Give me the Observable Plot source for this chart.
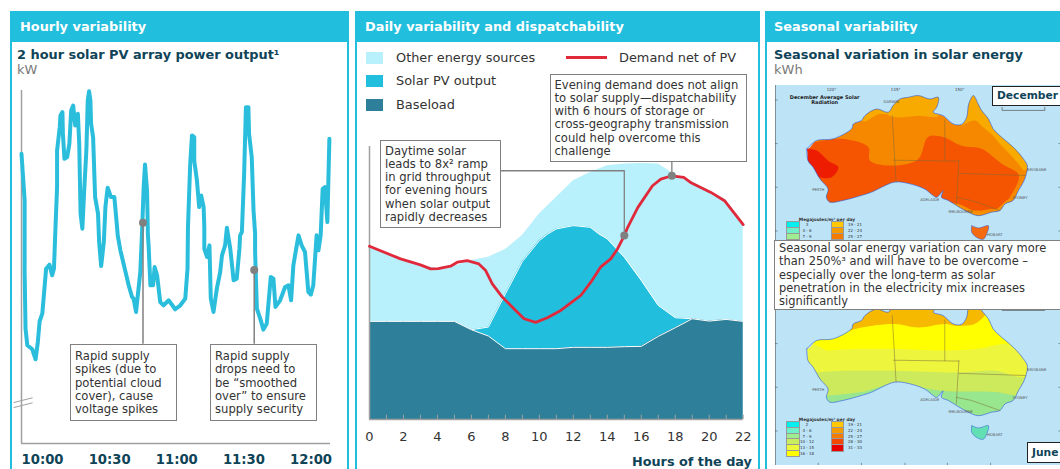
<!DOCTYPE html>
<html><head><meta charset="utf-8">
<script src="https://cdn.jsdelivr.net/npm/d3@7"></script>
<script src="https://cdn.jsdelivr.net/npm/@observablehq/plot@0.6"></script>
<style>
html,body{margin:0;padding:0;background:#fff}
#root{position:relative;width:1060px;height:469px;overflow:hidden;background:#fff;font-family:"DejaVu Sans",sans-serif}
.panel{position:absolute;top:11px;height:480px;border:2px solid #22bedd;box-sizing:border-box}
.head{position:absolute;top:11px;height:31px;background:#22bedd;color:#fff;font-weight:700;font-size:12.9px;line-height:32px;white-space:nowrap}
.t{position:absolute;white-space:nowrap}
.sub{color:#0f4458;font-weight:700;font-size:12.9px;line-height:16px}
.unit{color:#7a7a7a;font-size:13px;line-height:16px}
.leg{color:#333;font-size:12.9px;line-height:16px}
.sw{position:absolute}
.box{position:absolute;background:#fff;border:1.5px solid #808080;box-sizing:border-box;color:#333;font-size:11.6px;line-height:13.3px;white-space:nowrap;padding:4px 4px 0}
.mono{position:absolute;background:#fff;border:1.5px solid #222;box-sizing:border-box;color:#0f4458;font-weight:700;font-size:10.7px;white-space:nowrap;padding-left:4px}
.mlab{position:absolute;font-size:4px;line-height:5.6px;color:#333;white-space:nowrap;transform:translateX(-50%)}
svg{position:absolute}
</style></head><body><div id="root"></div>
<script>
// ---- Hourly panel: [minutes after 10:00, kW (relative, axis is unlabelled)]
const hourlyOutput = [[-9.4,87],[-8.6,79],[-8,73],[-8,51.5],[-7.6,34.5],[-6.8,29.5],[-4.6,28.3],[-3.1,25.3],[-2.1,30.5],[-1.3,36.7],[-0.1,39],[0.6,44.5],[1.6,52.5],[3.1,53.7],[4.3,50.5],[5.1,52.5],[5.8,65],[6.5,77],[6.5,88],[7.7,95],[8,98.5],[8.9,99.5],[9.1,93],[9.8,85.5],[11,86],[12,90],[12.8,100],[13.7,101.5],[14.6,95.5],[15.8,99],[16.4,90],[17,69],[17.8,64.5],[18.7,77],[19.6,88],[20.2,103],[20.8,105.8],[21.4,103],[21.7,96],[22.6,92],[23.5,74],[24.8,69],[25.3,60.5],[26.2,53.3],[27.4,60.5],[28.1,71],[29.1,76.8],[30.6,74],[32.1,74],[33.3,65],[33.6,62.5],[34.8,58],[38.5,47.5],[40,44],[40.7,43.5],[41.8,39.5],[42.5,44],[43.7,51.5],[44.5,64],[45.2,77],[45.8,83.8],[46.7,76],[47.1,62.5],[47.4,59.5],[48.2,47.5],[49.4,47.5],[50.1,53],[51.2,50.5],[52.6,42.5],[54.1,41.5],[56.4,43],[59.3,40.3],[61.6,41.5],[63.8,43.5],[64.8,52.5],[65,65],[66,84],[66.8,92.5],[67.8,92],[67.8,85],[69,79],[70,71],[70.9,74.5],[72,71],[72.3,65],[72.3,58.5],[73.5,56],[74.6,59.5],[75.2,43.5],[76.4,39.5],[77.9,46.5],[79.4,51.5],[80.2,56.5],[81.6,59.5],[82.4,64.8],[83.9,58.5],[85.4,49],[86.8,49.5],[88,58.5],[88.3,62.5],[89.1,63.5],[90.1,81],[90.9,101],[92,101],[92.3,93],[93.5,86],[94.3,70],[95,63],[95,57.5],[95.8,40.5],[97.3,37.5],[98.7,34.2],[100.2,36],[102,50],[103.2,49.5],[104.1,41],[106.2,43],[108.4,47],[109.9,47.5],[111.1,43],[112.1,53.5],[114.4,62.5],[115.8,59.5],[117.3,57.5],[118.8,45.5],[119.9,44.7],[121,47.5],[122.5,62.5],[123.3,58],[124.3,62.5],[125.2,76.5],[126.2,77],[127.3,66.5],[128.2,91.5]];
const hourlyTicks = [0,30,60,90,120];
const hourlyTickLabels = ["10:00","10:30","11:00","11:30","12:00"];
const hourlyCallouts = [{m:44.9,kw:66.3,to:29.8},{m:94.6,kw:52.1,to:29.8}];
const hourlyBreak = [{m:-12.8,v:12.3,z:"a"},{m:-4.6,v:13.7,z:"a"},{m:-12.8,v:10.8,z:"b"},{m:-4.6,v:12.2,z:"b"}];

// ---- Daily panel
const hours = d3.range(0,23);
const hourLabels = [0,2,4,6,8,10,12,14,16,18,20,22];
const baseloadTop = [29.5,29.5,29.5,29.5,29.5,29.5,27,25.1,21.3,21.3,21.3,21.3,21.7,21.7,21.7,21.9,22,25,27.6,30.3,29.6,30.1,29.5];
const solarHours = [6,7,8,9,10,10.5,11,12,13,13.5,14,15,16,17,18,19];
const solarTop = [27,27.8,37.8,47.5,53.8,55.8,57.3,58.3,57.8,55.8,54.3,48.8,41.8,34.3,30.6,30.3];
const otherTop = [52.1,49.8,47.6,46.5,45.4,46.1,47.8,48.8,51.1,55.3,61.8,66.8,71.8,74.3,76.3,76.8,77,76.8,73.6,71.5,68.8,66,58.6];
const demandNet = [[0,52.1],[1.83,48.3],[3,46.5],[3.6,45.3],[4.05,45.4],[4.77,46.1],[5.17,47.3],[5.76,47.8],[6.44,46.8],[6.84,44.8],[7.23,40.8],[7.82,36.8],[8.5,33.3],[9.1,30.3],[9.78,29.2],[10.47,30.6],[11.26,32.8],[12.44,37.3],[13.03,41.3],[13.6,45.8],[14.2,48.3],[14.6,51.3],[15,55.3],[15.2,57.8],[15.8,63.8],[16.66,70.3],[17.15,72.3],[17.8,73.3],[18.5,72.8],[18.9,71.3],[20.1,68.3],[20.9,65.8],[22,58.6]];
const dailyConnector = [[7.76,74.8],[15,74.8],[15,55.3]];
const dailyLeader = [[17.8,73.3],[17.8,77.3]];
const dailyDots = [[15,55.3],[17.8,73.3]];

// ---- Map outlines, in the map's own grid units
const coast = [[114.2,-21.2],[116.5,-19.3],[120.4,-18.9],[124.7,-16.6],[125.1,-15.5],[127,-14.7],[127.8,-13.6],[130.5,-12.1],[133.3,-12.8],[134.4,-11.3],[136,-9.8],[138,-9.4],[140.3,-9],[143,-9.8],[145,-9.4],[144.6,-11.7],[143.8,-12.8],[146.1,-13.6],[148.5,-15.5],[150.4,-15.6],[151.6,-14],[152.1,-10.9],[153.2,-9],[154.3,-10.9],[155.1,-12.4],[156.7,-14.3],[157.8,-16.6],[159.4,-18.2],[161.7,-20.1],[163.3,-21.6],[164.9,-23.5],[165.8,-25],[165.6,-26.9],[164.9,-28.8],[163.7,-30.8],[162.5,-33],[160.6,-33.8],[159.4,-35.3],[157.4,-35.7],[154.3,-36.5],[151.6,-35.5],[149.3,-34.2],[147.3,-33],[145.7,-32.3],[146.1,-30.8],[144.6,-32.3],[143.8,-31.9],[141.8,-30.4],[137.9,-29.1],[134.8,-28.8],[131.7,-30],[129.4,-31.1],[125.5,-32.3],[122.7,-33],[119.6,-33.4],[118.8,-32.3],[119.2,-30.4],[117.3,-28.1],[115.7,-25.4],[114.5,-23.9],[114.2,-21.2]];
const tasmania = [[152.8,-38.8],[154.4,-39.3],[156.7,-38.8],[156.3,-40.7],[155.5,-41.9],[154,-41.5],[152.8,-40.3],[152.8,-38.8]];
const stateBorders = [
 [[134.2,-13.6],[135.1,-28.8]],[[134.5,-23.8],[149.8,-24]],[[146.5,-14.6],[146.5,-23.9]],
 [[149.8,-23.9],[149.2,-33.8]],[[149.8,-26.8],[165.3,-27.3]],[[149.2,-32.3],[152.7,-33],[159.4,-35.3]]];
const scaleBar = [[159.9,-11.7],[159.9,-12.4],[169.9,-12.4],[169.9,-11.7]];
const frame = {x:[106.9,173.8], y:[-47.9,-6.7]};
const latTicks = [-10,-20,-30,-40];
const lonTicksBottom = [116.9,127,137.2,147.1,157.2];
const gridLabels = [{x:120,y:-7.7,t:"120°"},{x:135,y:-7.7,t:"135°"},{x:150,y:-7.7,t:"150°"}];
const citiesNorth = [{x:134,y:-10.5,t:"DARWIN"}];
const cities = [{x:116.9,y:-30.5,t:"PERTH"},{x:143,y:-32.8,t:"ADELAIDE"},{x:150.2,y:-35.7,t:"MELBOURNE"},{x:164.1,y:-32.3,t:"SYDNEY"},{x:168,y:-26,t:"BRISBANE"},{x:158.2,y:-40.8,t:"HOBART"}];
// December radiation bands
const decAmberNorth = [[133.3,-10.2],[145,-8.6],[145,-13.6],[140.3,-13.6],[135.6,-14],[133.3,-13.6]];
const decAmberCape = [[150.4,-15.9],[153.5,-14.7],[155.5,-16.3],[157.4,-17.8],[159.4,-20.1],[161.7,-22.4],[163.7,-24.6],[165.2,-26.2],[166,-23.9],[162.9,-19.3],[158.2,-15.5],[155.1,-10.2],[152.8,-7.9],[151.2,-13.2]];
const decAmberKimberley = [[127,-14.7],[130.5,-11.7],[133.7,-13.2],[131,-13.3],[128,-15]];
const decDark = [[116.1,-19.7],[122.3,-18.9],[128.6,-20.8],[129,-23.9],[134.8,-25],[140.3,-23.5],[142.6,-18.5],[146.1,-18.5],[150.4,-20.5],[155.1,-21.2],[159.8,-24.6],[163.7,-26.9],[163.7,-28.5],[161.7,-32.3],[159.8,-34.6],[156.7,-35],[153.5,-35.3],[149.6,-33.8],[142.6,-33],[137.2,-30],[129.4,-31.5],[119.2,-34.6],[111.4,-25.4],[113,-20.8]];
const decAmberSouth = [[149.6,-33.8],[153.5,-35.5],[158.2,-35.2],[161.7,-32.7],[162.9,-34.6],[154.3,-37.3],[147.3,-34.2]];
const decRed = [[113.8,-21.2],[116.5,-21.6],[119.2,-23.9],[121.6,-25.4],[120,-27.7],[117.3,-27.7],[115.3,-26.2],[113.4,-23.1]];
// June radiation bands
const junLime = [[119.2,-31.9],[127,-31.1],[134.8,-29.2],[145.7,-30.8],[158.2,-31.1],[164.5,-31.9],[169.9,-30],[169.9,-10.2],[111.4,-10.2],[111.4,-31.9]];
const junPale = [[116.1,-26.6],[123.1,-26.2],[134.8,-26.2],[149.6,-26.6],[158.2,-26.2],[166,-27.3],[169.9,-10.2],[111.4,-10.2],[111.4,-26.6]];
const junYellow = [[118.8,-21.6],[127,-21.2],[134.8,-21.2],[146.1,-21.6],[154.3,-21.2],[159.8,-20.1],[163.7,-20.1],[160.6,-10.2],[119.6,-10.2],[111.4,-17.8]];
const junAmber = [[123.1,-17.4],[127,-16.3],[134.8,-15.5],[140.3,-16.3],[146.5,-15.5],[149.3,-15.9],[153.9,-15.3],[157.4,-10.2],[123.1,-8.6]];

const legendLeft = [["#00f0f0","2"],["#70f0c8","4 - 6"],["#a0ec90","7 - 9"],["#c8ee60","10 - 12"],["#eef83a","13 - 15"],["#ffff00","16 - 18"]];
const legendRight = [["#ffc800","19 - 21"],["#f59b00","22 - 24"],["#f57a00","25 - 27"],["#f44800","28 - 30"],["#e80000","31 - 33"]];

const teal="#22bedd", dark="#0f4458";
const root = document.getElementById("root");
function add(cls,l,t,html,extra){const d=document.createElement("div");d.className=cls;d.style.left=l+"px";d.style.top=t+"px";d.innerHTML=html;if(extra)Object.assign(d.style,extra);root.appendChild(d);return d;}

// panels
add("panel",10,11,"",{width:"339px"});
add("panel",354.5,11,"",{width:"405.5px"});
add("panel",764.5,11,"",{width:"310px"});
add("head",10,11,'<span style="margin-left:10px">Hourly variability</span>',{width:"339px"});
add("head",354.5,11,'<span style="margin-left:10.5px">Daily variability and dispatchability</span>',{width:"405.5px"});
add("head",764.5,11,'<span style="margin-left:9.5px">Seasonal variability</span>',{width:"296px"});

add("t sub",17,47,"2 hour solar PV array power output¹");
add("t unit",17,62,"kW");

// Hourly chart
root.appendChild(Plot.plot({
  width:350,height:384,marginLeft:21,marginRight:20,marginTop:5,marginBottom:26,
  style:{position:"absolute",left:"0px",top:"85px",background:"transparent",overflow:"visible",fontFamily:"DejaVu Sans"},
  x:{domain:[-9.4,128.7]},y:{domain:[0,106]},
  marks:[
    Plot.ruleX([-9.4],{stroke:"#a0a0a0",strokeWidth:1.5}),
    Plot.ruleY([0],{stroke:"#a0a0a0",strokeWidth:1.5}),
    Plot.line(hourlyBreak,{x:"m",y:"v",z:"z",stroke:"#a0a0a0",strokeWidth:1}),
    Plot.line(hourlyOutput,{x:d=>d[0],y:d=>d[1],stroke:"#2bbedc",strokeWidth:4,strokeLinejoin:"round"}),
    Plot.ruleX(hourlyCallouts,{x:"m",y1:"to",y2:"kw",stroke:"#808080",strokeWidth:1.5}),
    Plot.dot(hourlyCallouts,{x:"m",y:"kw",r:4,fill:"#808080"}),
    Plot.axisX({ticks:hourlyTicks,tickFormat:d=>hourlyTickLabels[hourlyTicks.indexOf(d)],tickSize:0,tickPadding:11,fontSize:13.2,fontWeight:700,color:dark,label:null}),
    Plot.axisY({ticks:[],label:null})
  ]}));
add("box",70,344,"Rapid supply<br>spikes (due to<br>potential cloud<br>cover), cause<br>voltage spikes",{width:"107px",height:"77px",paddingTop:"5px"});
add("box",210,344,"Rapid supply<br>drops need to<br>be “smoothed<br>over” to ensure<br>supply security",{width:"107px",height:"77px",paddingTop:"5px"});

// Daily legend
[["#b8f0fb",52,"Other energy sources"],[teal,75,"Solar PV output"],["#2d7f9a",99,"Baseload"]].forEach(([c,t,l])=>{
  add("sw",366,t,"",{width:"17px",height:"12px",background:c});
  add("t leg",396,t-2,l);
});
add("sw",566,55.5,"",{width:"41px",height:"3px",background:"#e02a3c"});
add("t leg",619,50,"Demand net of PV");

// Daily chart
const rowsOther = hours.map((h,i)=>({h,v:otherTop[i]}));
const rowsBase = hours.map((h,i)=>({h,v:baseloadTop[i]}));
const rowsSolar = solarHours.map((h,i)=>({h,v:solarTop[i]}));
root.appendChild(Plot.plot({
  width:410,height:329,marginLeft:19,marginRight:17.3,marginTop:6,marginBottom:50,
  style:{position:"absolute",left:"350px",top:"140px",background:"transparent",overflow:"visible",fontFamily:"DejaVu Sans",fontSize:"13px"},
  x:{domain:[0,22]},y:{domain:[0,82.1]},
  marks:[
    Plot.areaY(rowsOther,{x:"h",y:"v",fill:"#b8f0fb"}),
    Plot.areaY(rowsSolar,{x:"h",y:"v",fill:teal}),
    Plot.lineY(rowsSolar,{x:"h",y:"v",stroke:"#fff",strokeWidth:1}),
    Plot.areaY(rowsBase,{x:"h",y:"v",fill:"#2d7f9a"}),
    Plot.lineY(rowsBase,{x:"h",y:"v",stroke:"#fff",strokeWidth:1}),
    Plot.ruleX([0],{stroke:"#a0a0a0",strokeWidth:1.5}),
    Plot.ruleY([0],{stroke:"#a0a0a0",strokeWidth:1.5}),
    Plot.ruleX(hours,{x:d=>d,y1:0,y2:1.3,stroke:"#a0a0a0",strokeWidth:1}),
    Plot.line(demandNet,{x:d=>d[0],y:d=>d[1],stroke:"#e02a3c",strokeWidth:2.8,strokeLinejoin:"round"}),
    Plot.line(dailyConnector,{x:d=>d[0],y:d=>d[1],stroke:"#808080",strokeWidth:1.3}),
    Plot.line(dailyLeader,{x:d=>d[0],y:d=>d[1],stroke:"#808080",strokeWidth:1.3}),
    Plot.dot(dailyDots,{x:d=>d[0],y:d=>d[1],r:4,fill:"#808080"}),
    Plot.axisX({ticks:hourLabels,tickSize:0,tickPadding:12,fontSize:13,color:"#333",label:null}),
    Plot.axisY({ticks:[],label:null})
  ]}));
add("t",632,454,"Hours of the day",{color:dark,fontWeight:"700",fontSize:"12.8px",lineHeight:"16px"});
add("box",380,139.5,"Daytime solar<br>leads to 8x² ramp<br>in grid throughput<br>for evening hours<br>when solar output<br>rapidly decreases",{width:"121px",height:"88px"});
add("box",549.5,73.5,"Evening demand does not align<br>to solar supply—dispatchability<br>with 6 hours of storage or<br>cross-geography transmission<br>could help overcome this<br>challenge",{width:"197px",height:"88px"});

// Maps
const smooth="catmull-rom";
const poly = (pts,fill)=>Plot.line(pts,{x:d=>d[0],y:d=>d[1],fill,stroke:"none",curve:smooth});
function mapPlot(top,landFill,tasFill,bands,withNorth){
  const [x0,x1]=frame.x,[y0,y1]=frame.y;
  const tl=[x0-3,y1+3],bl=[x0-3,y0-3],br=[x1+3,y0-3],tr=[x1+3,y1+3];
  const mask=[tl,tl,bl,bl,br,br,tr,tr,tl,tl,...coast,tl,tl];
  return Plot.plot({
    width:286,height:180,margin:0,
    style:{position:"absolute",left:"774.5px",top:top+"px",background:"#bde3f7",fontFamily:"DejaVu Sans"},
    x:{domain:frame.x},y:{domain:frame.y},
    marks:[
      poly(coast,landFill),
      ...bands.map(([p,c])=>poly(p,c)),
      poly(mask,"#bde3f7"),
      Plot.line(coast,{x:d=>d[0],y:d=>d[1],stroke:"#2a55d8",strokeWidth:.6,curve:smooth}),
      poly(tasmania,tasFill),
      Plot.line(tasmania,{x:d=>d[0],y:d=>d[1],stroke:"#2a55d8",strokeWidth:.5,curve:smooth}),
      ...stateBorders.map(b=>Plot.line(b,{x:d=>d[0],y:d=>d[1],stroke:"#7d6a3a",strokeWidth:.5})),
      Plot.line(scaleBar,{x:d=>d[0],y:d=>d[1],stroke:"#555",strokeWidth:.7}),
      Plot.ruleX(frame.x.slice(0,1),{stroke:"#7f8f99",strokeWidth:1}),
      Plot.ruleY(frame.y.slice(0,1),{stroke:"#7f8f99",strokeWidth:1}),
      Plot.ruleY(latTicks,{x1:x0,x2:x0+.6,stroke:"#555",strokeWidth:.6}),
      Plot.ruleY(latTicks,{x1:x1-.6,x2:x1,stroke:"#555",strokeWidth:.6}),
      Plot.ruleX(lonTicksBottom,{y1:y0,y2:y0+.5,stroke:"#555",strokeWidth:.6}),
      Plot.text(cities,{x:"x",y:"y",text:"t",fontSize:3.8,fill:"#555"}),
      ...(withNorth?[
        Plot.text(gridLabels,{x:"x",y:"y",text:"t",fontSize:4,fill:"#444"}),
        Plot.text(citiesNorth,{x:"x",y:"y",text:"t",fontSize:3.8,fill:"#555"}),
        Plot.text(["December Average Solar\nRadiation"],{x:118.4,y:-10,text:d=>d,fontSize:5,fontWeight:700,fill:"#222",lineHeight:1.1})
      ]:[]),
      Plot.axisX({ticks:[],label:null}),Plot.axisY({ticks:[],label:null})
    ]});
}
function mapLegend(top,firstLabel,rows){
  add("mlab",827,top+131.5,"Megajoules/m² per day",{fontWeight:"700",fontSize:"4.4px"});
  legendLeft.slice(0,rows).forEach(([c,l],i)=>{
    add("sw",786.7,top+137.3+i*5.7,"",{width:"12.7px",height:"5.7px",background:c,outline:"0.5px solid #999"});
    add("mlab",807,top+137.3+i*5.7,i?l:firstLabel);
  });
  legendRight.slice(0,rows).forEach(([c,l],i)=>{
    add("sw",831.7,top+137.3+i*5.7,"",{width:"11.7px",height:"5.7px",background:c,outline:"0.5px solid #999"});
    add("mlab",855,top+137.3+i*5.7,l);
  });
}
const amber="#f9aa00",orange="#f68800",orangered="#f55500",red="#ee1c00";
root.appendChild(mapPlot(85,orange,"#f56a10",[[decAmberNorth,amber],[decAmberCape,amber],[decAmberKimberley,amber],[decDark,orangered],[decAmberSouth,"#f99000"],[decRed,red]],true));
mapLegend(85,"3",3);
root.appendChild(mapPlot(285,"#98e68e","#62e0b4",[[junLime,"#cdea5c"],[junPale,"#edf53c"],[junYellow,"#ffff00"],[junAmber,"#f7b800"]],false));
mapLegend(285,"2",6);

add("box",774,240,"Seasonal solar energy variation can vary more<br>than 250%³ and will have to be overcome –<br>especially over the long-term as solar<br>penetration in the electricity mix increases<br>significantly",{width:"290px",height:"69.5px",fontSize:"11.45px",paddingTop:"1px"});
add("mono",992,86,"December",{width:"72px",height:"20px",lineHeight:"18px"});
add("mono",1027,442,"June",{width:"36px",height:"21px",lineHeight:"19px"});

add("t sub",774,47,"Seasonal variation in solar energy");
add("t unit",774,62,"kWh");
</script>
</body></html>
